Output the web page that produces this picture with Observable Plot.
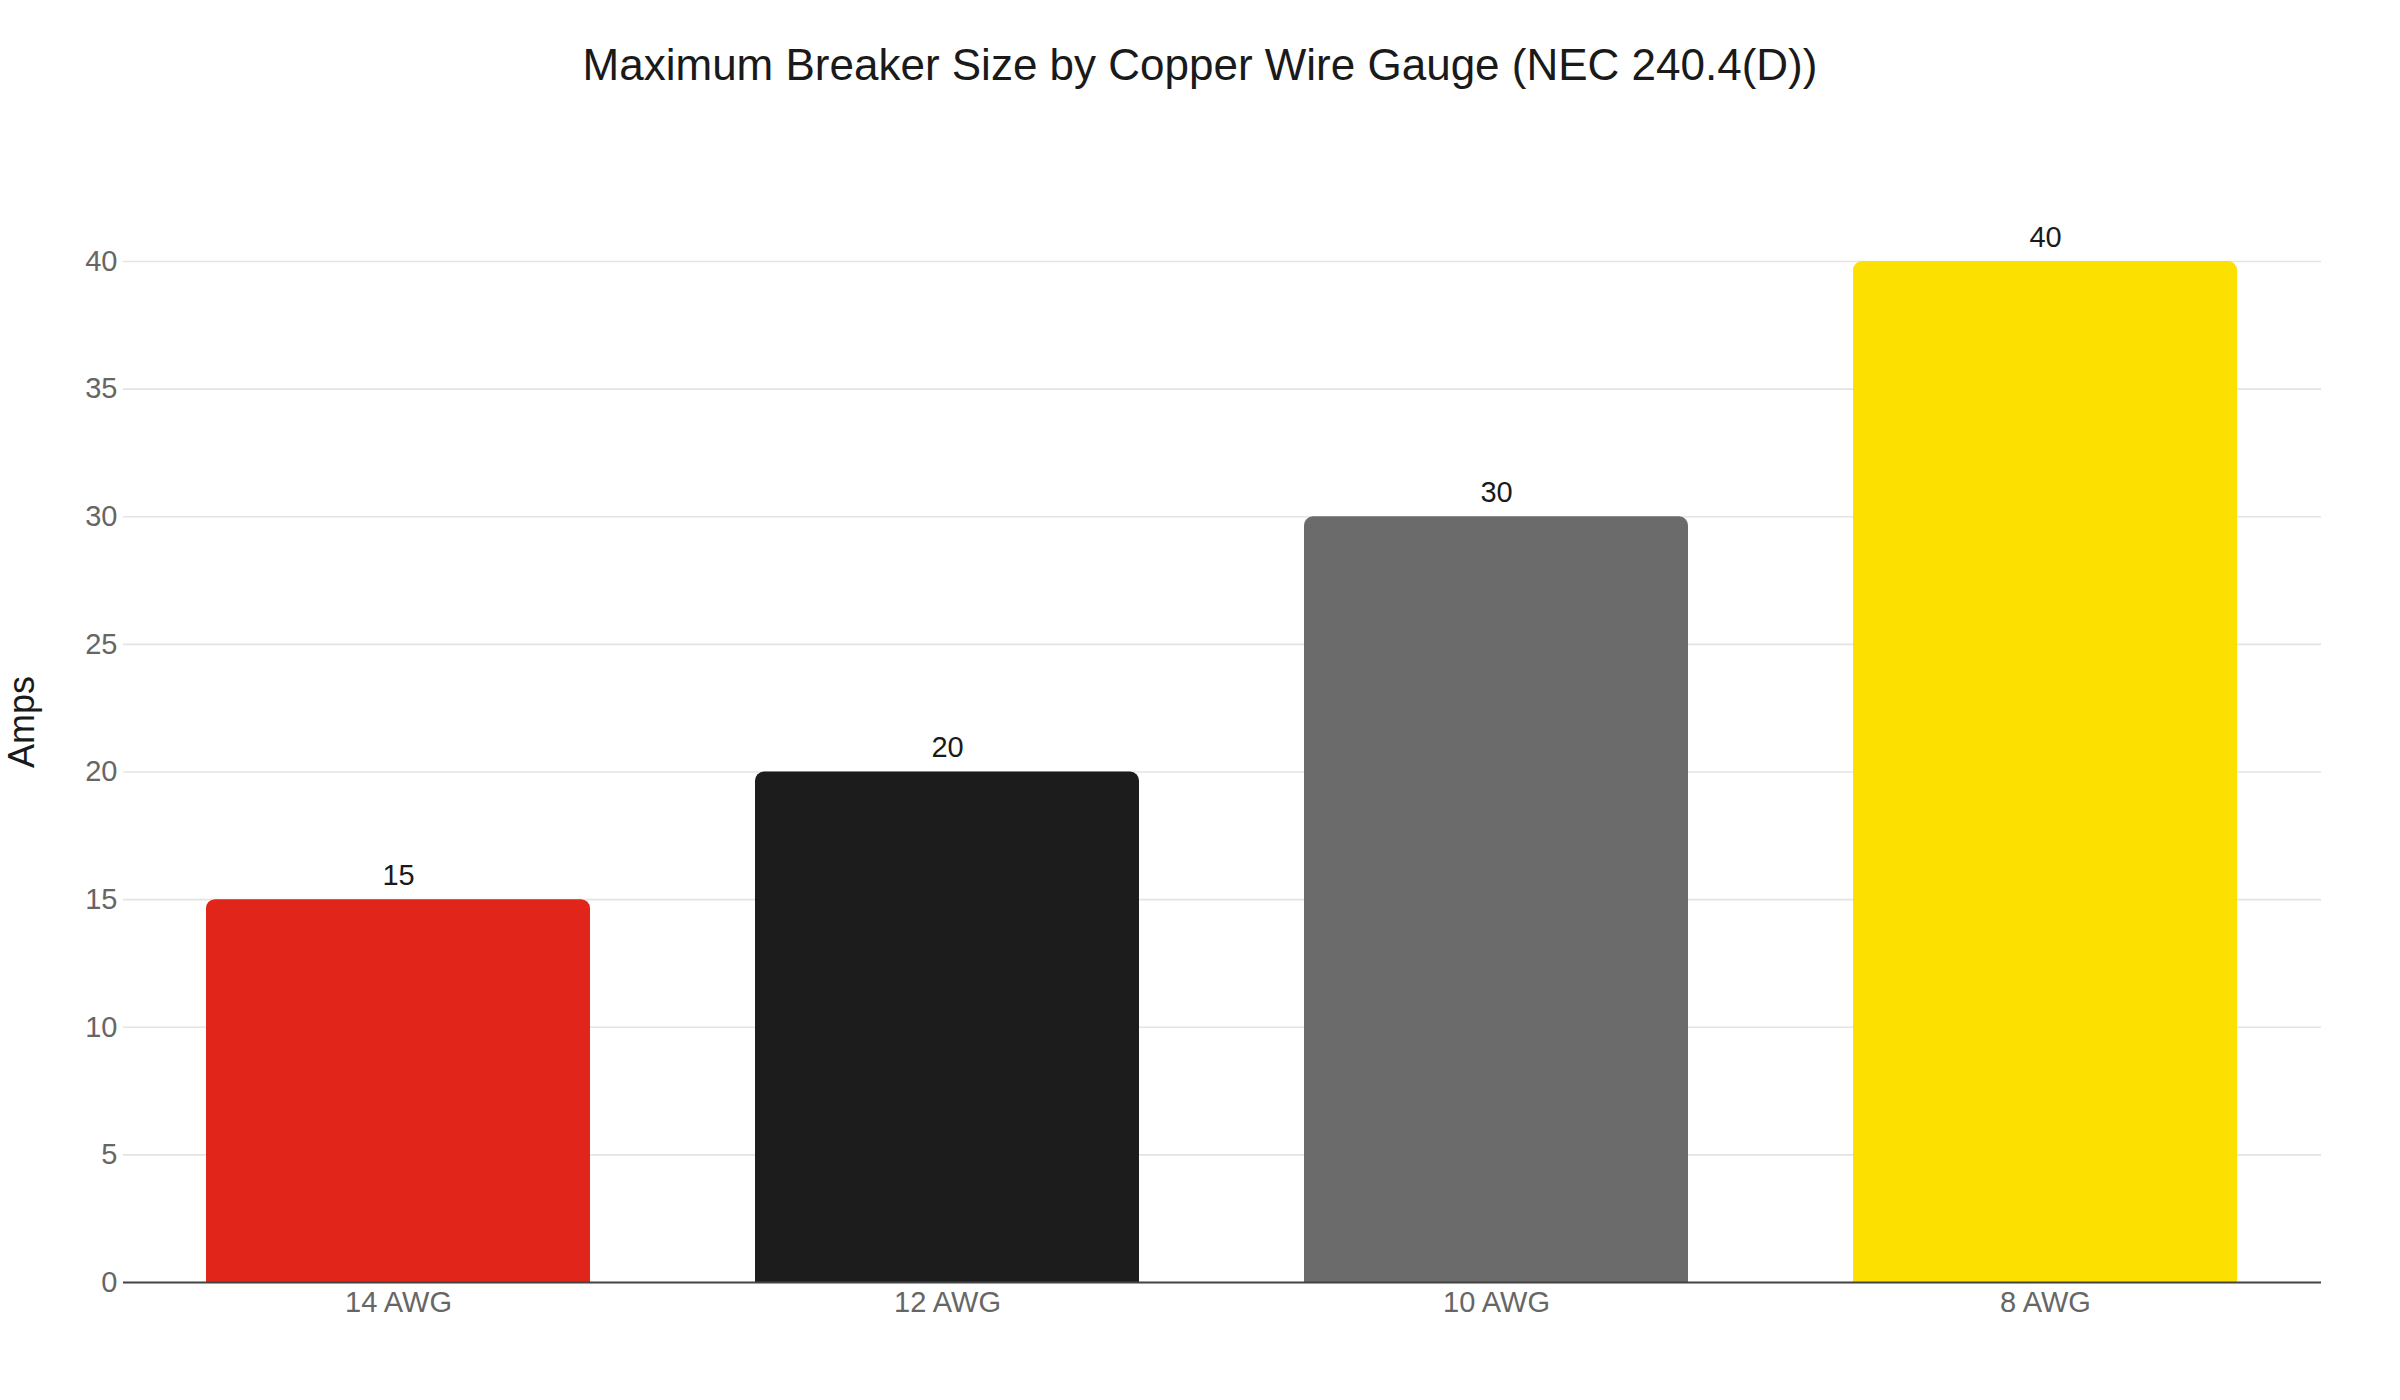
<!DOCTYPE html>
<html>
<head>
<meta charset="utf-8">
<script src="https://cdn.jsdelivr.net/npm/d3@7"></script>
<script src="https://cdn.jsdelivr.net/npm/@observablehq/plot@0.6"></script>
<style>
  html, body { margin: 0; padding: 0; background: #fff; }
  #wrap { width: 2400px; height: 1400px; position: relative; font-family: "Liberation Sans", Arial, sans-serif; }
  #title { height: 130px; line-height: 130px; text-align: center; font-size: 44px; color: #1a1a1a; }
</style>
</head>
<body>
<div id="wrap">
  <div id="title">Maximum Breaker Size by Copper Wire Gauge (NEC 240.4(D))</div>
  <div id="chart"></div>
</div>
<script>
const gauges = ["14 AWG", "12 AWG", "10 AWG", "8 AWG"];
const amps = [15, 20, 30, 40];
const barColors = ["#e1251b", "#1c1c1c", "#6b6b6b", "#fce100"];
const yTicks = [0, 5, 10, 15, 20, 25, 30, 35, 40];
const yLabel = "Amps";

const data = gauges.map((g, i) => ({gauge: g, amps: amps[i], color: barColors[i]}));

const chart = Plot.plot({
  width: 2400,
  height: 1270,
  marginTop: 131,
  marginBottom: 118,
  marginLeft: 123,
  marginRight: 79,
  style: {fontFamily: "'Liberation Sans', Arial, sans-serif", background: "#fff"},
  x: {domain: gauges, paddingInner: 0.3, paddingOuter: 0.15, label: null},
  y: {domain: [0, 40], label: null},
  marks: [
    Plot.gridY(yTicks, {stroke: "#e4e4e4", strokeOpacity: 1, strokeWidth: 1.6}),
    Plot.axisY(yTicks, {tickSize: 0, tickPadding: 6, fontSize: 29, color: "#666", label: null}),
    Plot.axisX({tickSize: 0, tickPadding: 9, fontSize: 29, color: "#666", label: null}),
    Plot.barY(data, {x: "gauge", y: "amps", fill: "color", ry1: 9, rx: 9}),
    Plot.ruleY([0], {stroke: "#444", strokeWidth: 2}),
    Plot.text(data, {x: "gauge", y: "amps", text: d => String(d.amps), dy: -24, fontSize: 29, fill: "#1a1a1a"}),
    Plot.text([yLabel], {frameAnchor: "left", textAnchor: "middle", dx: -101, dy: -50, rotate: -90, fontSize: 36, fill: "#1a1a1a"})
  ]
});
document.getElementById("chart").appendChild(chart);
</script>
</body>
</html>
